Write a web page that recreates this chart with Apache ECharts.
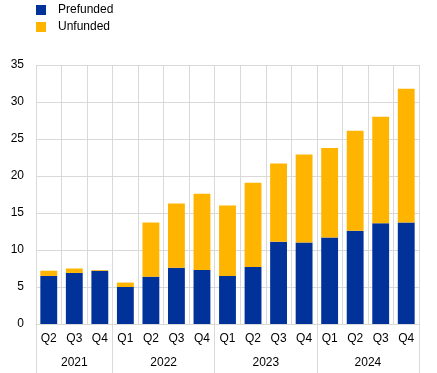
<!DOCTYPE html>
<html>
<head>
<meta charset="utf-8">
<script src="https://cdn.jsdelivr.net/npm/echarts@6/dist/echarts.min.js"></script>
<style>
html,body{margin:0;padding:0;background:#fff;}
#chart{width:437px;height:373px;}
</style>
</head>
<body>
<div id="chart"></div>
<script>
const quarters = ['Q2','Q3','Q4','Q1','Q2','Q3','Q4','Q1','Q2','Q3','Q4','Q1','Q2','Q3','Q4'];
const years = ['2021','2022','2023','2024'];
const yearStarts = [0, 3, 7, 11, 15];
const prefunded = [6.5, 6.9, 7.2, 5.0, 6.4, 7.6, 7.3, 6.5, 7.7, 11.1, 11.0, 11.7, 12.6, 13.6, 13.7];
const total =     [7.2, 7.5, 7.3, 5.6, 13.7, 16.3, 17.6, 16.0, 19.1, 21.7, 22.9, 23.8, 26.1, 28.0, 31.8];
const unfunded = total.map((t, i) => +(t - prefunded[i]).toFixed(2));

const FONT = 'Liberation Sans, Arial, sans-serif';
const GRID = '#d9d9d9';

const yearCentres = years.map((y, i) => (yearStarts[i] + yearStarts[i + 1]) / 2);

const chart = echarts.init(document.getElementById('chart'), null, {renderer: 'canvas'});
chart.setOption({
  animation: false,
  legend: {
    orient: 'vertical',
    left: 36,
    top: 4,
    padding: 0,
    itemWidth: 10,
    itemHeight: 10,
    itemGap: 5,
    icon: 'rect',
    textStyle: {fontFamily: FONT, fontSize: 12, color: '#000', padding: [0, 0, 0, 7]},
    data: ['Prefunded', 'Unfunded']
  },
  grid: {left: 36, right: 18, top: 65, bottom: 49, containLabel: false},
  xAxis: [
    {
      type: 'category',
      data: quarters,
      boundaryGap: true,
      axisLine: {show: true, lineStyle: {color: GRID, width: 1}},
      axisTick: {
        show: true,
        length: 49,
        lineStyle: {color: GRID, width: 1},
        interval: (idx) => yearStarts.includes(idx)
      },
      splitLine: {show: true, interval: 0, lineStyle: {color: GRID, width: 1}},
      axisLabel: {fontFamily: FONT, fontSize: 12, color: '#000', margin: 9, interval: 0}
    },
    {
      type: 'value',
      position: 'bottom',
      min: 0,
      max: 15,
      interval: 0.5,
      axisLine: {show: false},
      axisTick: {show: false},
      splitLine: {show: false},
      axisLabel: {
        fontFamily: FONT, fontSize: 12, color: '#000', margin: 33,
        showMinLabel: false, showMaxLabel: false,
        formatter: (v) => {
          const i = yearCentres.findIndex(c => Math.abs(c - v) < 1e-6);
          return i >= 0 ? years[i] : '';
        }
      }
    }
  ],
  yAxis: {
    type: 'value',
    min: 0,
    max: 35,
    interval: 5,
    axisLine: {show: false},
    axisTick: {show: false},
    splitLine: {show: true, lineStyle: {color: GRID, width: 1}},
    axisLabel: {fontFamily: FONT, fontSize: 12, color: '#000', margin: 12}
  },
  series: [
    {
      name: 'Prefunded',
      type: 'bar',
      stack: 'a',
      xAxisIndex: 0,
      barWidth: '66%',
      itemStyle: {color: '#003299'},
      data: prefunded
    },
    {
      name: 'Unfunded',
      type: 'bar',
      stack: 'a',
      xAxisIndex: 0,
      barWidth: '66%',
      itemStyle: {color: '#ffb400'},
      data: unfunded
    }
  ]
});
</script>
</body>
</html>
